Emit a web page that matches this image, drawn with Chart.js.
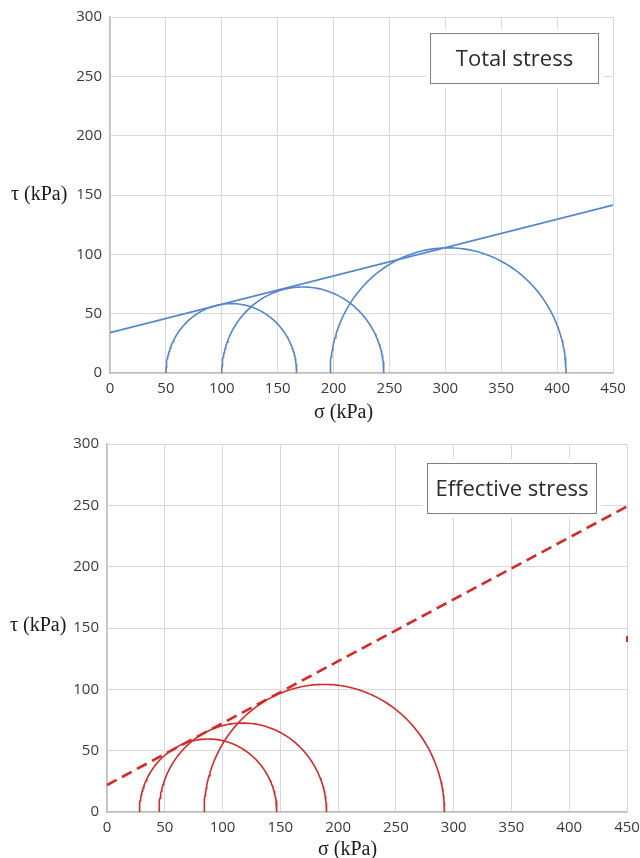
<!DOCTYPE html>
<html>
<head>
<meta charset="utf-8">
<script src="https://cdn.jsdelivr.net/npm/chart.js@4.4.1/dist/chart.umd.min.js"></script>
<style>
    html, body { margin: 0; padding: 0; background: #fff; }
    body { width: 640px; height: 858px; position: relative; overflow: hidden; }
    canvas { position: absolute; left: 0; }
    #topChart { top: 0; }
    #bottomChart { top: 425px; }
    .axis-title {
        position: absolute;
        font-family: "Liberation Serif", "DejaVu Serif", serif;
        font-size: 20px;
        color: #1a1a1a;
        line-height: 22px;
        white-space: nowrap;
    }
    .stress-box {
        position: absolute;
        background: #fff;
        border: 1.5px solid #7f7f7f;
        box-shadow: 0 0 0 4px #fff;
        font-family: "Open Sans", sans-serif;
        font-size: 22px;
        color: #2b2b2b;
        text-align: center;
        box-sizing: border-box;
    }
</style>
</head>
<body>
<canvas id="topChart" width="640" height="425"></canvas>
<canvas id="bottomChart" width="640" height="433"></canvas>

<div class="axis-title" style="left:11px; top:182px;">τ (kPa)</div>
<div class="axis-title" style="left:314px; top:400px;">σ (kPa)</div>
<div class="axis-title" style="left:10px; top:613px;">τ (kPa)</div>
<div class="axis-title" style="left:318px; top:837px;">σ (kPa)</div>

<div class="stress-box" style="left:430px; top:33px; width:169px; height:51px; line-height:47px;">Total stress</div>
<div class="stress-box" style="left:427px; top:463px; width:170px; height:51px; line-height:47px;">Effective stress</div>

<script>
// Mohr circles: total vs effective stress

const sigmaTicks = [0, 50, 100, 150, 200, 250, 300, 350, 400, 450];
const tauTicks = [0, 50, 100, 150, 200, 250, 300];

// total stress circles (sigma3, sigma1) and envelope
const totalSigma3 = [50, 100, 197];
const totalSigma1 = [167, 245, 408];
const envelopeSigma = [0, 450];
const totalEnvelopeTau = [34, 141.5];

// effective stress circles and envelope
const effSigma3 = [28, 45, 84];
const effSigma1 = [147, 190, 292];
const effEnvelopeTau = [22, 249];

// small red stroke at right edge of lower plot
const straySigma = [450, 450];
const strayTau = [138.5, 143.5];

const blue = "#5585cc";
const red = "#d42a2a";

function semicircle(s3, s1) {
    const c = (s1 + s3) / 2;
    const r = (s1 - s3) / 2;
    const pts = [];
    for (let i = 0; i <= 120; i++) {
        const a = Math.PI - (Math.PI * i) / 120;
        pts.push({ x: c + r * Math.cos(a), y: r * Math.sin(a) });
    }
    return pts;
}

function pairs(xs, ys) {
    return xs.map((x, i) => ({ x: x, y: ys[i] }));
}

function circleSets(s3s, s1s, color) {
    return s3s.map((s3, i) => ({
        data: semicircle(s3, s1s[i]),
        showLine: true,
        borderColor: color,
        borderWidth: 1.6,
        pointRadius: 0,
        tension: 0
    }));
}

function buildOptions(yWidth, xHeight, padding) {
    const tickFont = { family: "'Open Sans', sans-serif", size: 15 };
    return {
        responsive: false,
        animation: false,
        devicePixelRatio: 1,
        layout: { padding: padding },
        plugins: { legend: { display: false }, tooltip: { enabled: false } },
        scales: {
            x: {
                type: "linear",
                min: 0,
                max: 450,
                afterBuildTicks: s => { s.ticks = sigmaTicks.map(v => ({ value: v })); },
                afterFit: s => { s.height = xHeight; s.paddingLeft = 0; s.paddingRight = 0; },
                grid: { color: "#d9d9d9", drawTicks: false },
                border: { color: "#bfbfbf", width: 1.5 },
                ticks: { color: "#3a3a3a", font: tickFont, padding: 7, maxRotation: 0 }
            },
            y: {
                type: "linear",
                min: 0,
                max: 300,
                afterBuildTicks: s => { s.ticks = tauTicks.map(v => ({ value: v })); },
                afterFit: s => { s.width = yWidth; s.paddingTop = 0; s.paddingBottom = 0; },
                grid: { color: "#d9d9d9", drawTicks: false },
                border: { color: "#bfbfbf", width: 1.5 },
                ticks: { color: "#3a3a3a", font: tickFont, padding: 8 }
            }
        }
    };
}

new Chart(document.getElementById("topChart"), {
    type: "scatter",
    data: {
        datasets: circleSets(totalSigma3, totalSigma1, blue).concat([{
            data: pairs(envelopeSigma, totalEnvelopeTau),
            showLine: true,
            borderColor: blue,
            borderWidth: 1.6,
            pointRadius: 0
        }])
    },
    options: buildOptions(110, 52, { top: 17, right: 27, left: 0, bottom: 0 })
});

new Chart(document.getElementById("bottomChart"), {
    type: "scatter",
    data: {
        datasets: circleSets(effSigma3, effSigma1, red).concat([{
            data: pairs(envelopeSigma, effEnvelopeTau),
            showLine: true,
            borderColor: red,
            borderWidth: 2.6,
            borderDash: [11, 6],
            pointRadius: 0
        }, {
            data: pairs(straySigma, strayTau),
            showLine: true,
            borderColor: red,
            borderWidth: 2,
            pointRadius: 0,
            clip: false
        }])
    },
    options: buildOptions(107, 46, { top: 19, right: 13, left: 0, bottom: 0 })
});
</script>
</body>
</html>
